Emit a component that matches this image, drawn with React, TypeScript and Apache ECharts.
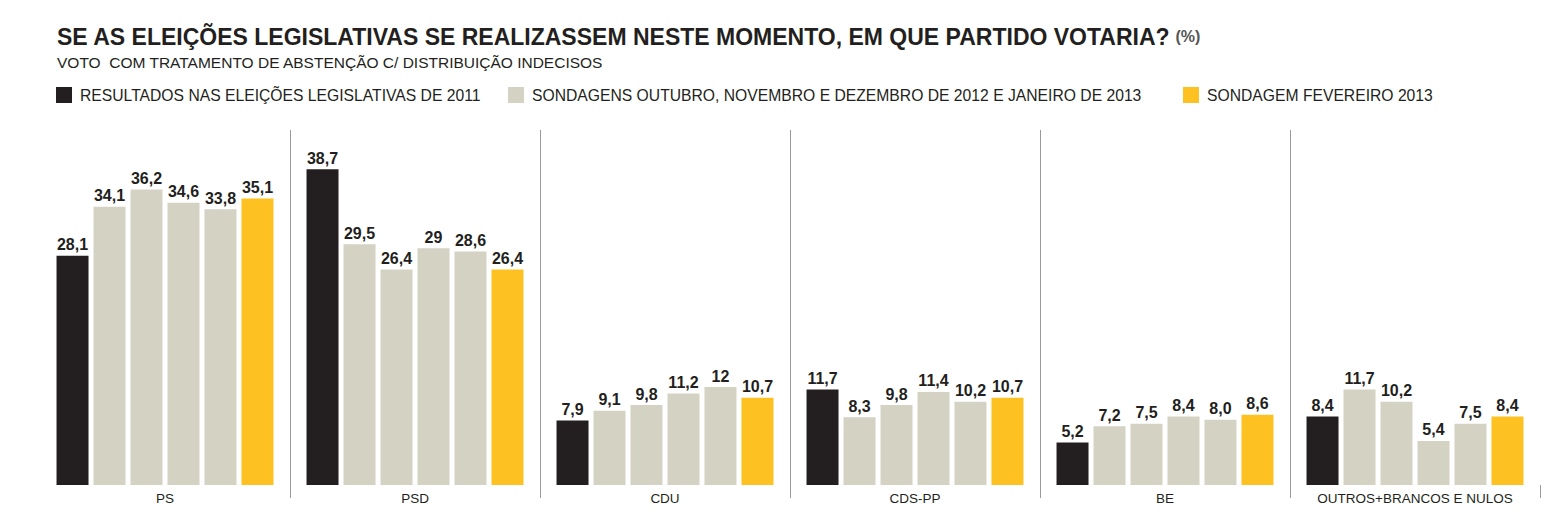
import React, { useEffect, useRef } from "react";
import * as echarts from "echarts";

const categories = ["PS", "PSD", "CDU", "CDS-PP", "BE", "OUTROS+BRANCOS E NULOS"];

const legendNames = [
  "RESULTADOS NAS ELEIÇÕES LEGISLATIVAS DE 2011",
  "SONDAGENS OUTUBRO, NOVEMBRO E DEZEMBRO DE 2012 E JANEIRO DE 2013",
  "SONDAGEM FEVEREIRO 2013",
];

const results2011 = [28.1, 38.7, 7.9, 11.7, 5.2, 8.4];
const pollOct2012 = [34.1, 29.5, 9.1, 8.3, 7.2, 11.7];
const pollNov2012 = [36.2, 26.4, 9.8, 9.8, 7.5, 10.2];
const pollDec2012 = [34.6, 29, 11.2, 11.4, 8.4, 5.4];
const pollJan2013 = [33.8, 28.6, 12, 10.2, 8.0, 7.5];
const pollFeb2013 = [35.1, 26.4, 10.7, 10.7, 8.6, 8.4];

// number of decimals shown in each label
const decimals2011 = [1, 1, 1, 1, 1, 1];
const decimalsOct = [1, 1, 1, 1, 1, 1];
const decimalsNov = [1, 1, 1, 1, 1, 1];
const decimalsDec = [1, 0, 1, 1, 1, 1];
const decimalsJan = [1, 1, 0, 1, 1, 1];
const decimalsFeb = [1, 1, 1, 1, 1, 1];

const BLACK = "#231f20";
const GREY = "#d3d2c3";
const YELLOW = "#fdc121";
const TEXT = "#231f20";
const FONT = "Liberation Sans, Arial, sans-serif";

export default function App() {
  const ref = useRef<HTMLDivElement>(null);

  useEffect(() => {
    if (!ref.current) return;
    const chart = echarts.init(ref.current, undefined, { renderer: "svg" });

    const mk = (name: string, data: number[], dec: number[], color: string) => ({
      name,
      type: "bar",
      data,
      barWidth: 32,
      barGap: "15.6%",
      itemStyle: { color },
      label: {
        show: true,
        position: "top",
        distance: 3,
        fontFamily: FONT,
        fontWeight: "bold",
        fontSize: 16,
        color: TEXT,
        formatter: (p: any) => p.value.toFixed(dec[p.dataIndex]).replace(".", ","),
      },
    });

    const legendCommon = {
      icon: "rect",
      itemWidth: 16,
      itemHeight: 16,
      top: 87,
      padding: 0,
      selectedMode: false,
      textStyle: {
        fontFamily: FONT,
        fontSize: 15.7,
        color: TEXT,
        padding: [0, 0, 0, 3],
      },
    };

    chart.setOption({
      animation: false,
      title: [
        {
          left: 57,
          top: 25,
          padding: 0,
          text: "{b|SE AS ELEIÇÕES LEGISLATIVAS SE REALIZASSEM NESTE MOMENTO, EM QUE PARTIDO VOTARIA?} {n|(%)}",
          textStyle: {
            rich: {
              b: {
                fontFamily: FONT,
                fontWeight: "bold",
                fontSize: 23,
                color: TEXT,
              },
              n: {
                fontFamily: FONT,
                fontSize: 16,
                color: "#555",
              },
            },
          },
        },
        {
          left: 57,
          top: 54,
          padding: 0,
          text: "VOTO  COM TRATAMENTO DE ABSTENÇÃO C/ DISTRIBUIÇÃO INDECISOS",
          textStyle: {
            fontFamily: FONT,
            fontWeight: "normal",
            fontSize: 15.5,
            color: TEXT,
          },
        },
      ],
      legend: [
        { ...legendCommon, left: 56, data: [legendNames[0]] },
        { ...legendCommon, left: 508, data: [legendNames[1]] },
        { ...legendCommon, left: 1183, data: [legendNames[2]] },
      ],
      grid: { left: 40, right: 25, top: 130, bottom: 36 },
      xAxis: {
        type: "category",
        data: categories,
        axisLine: { show: false },
        axisTick: {
          show: true,
          length: 13,
          interval: (i: number) => i > 0,
          lineStyle: { color: "#9a9a9a", width: 1 },
        },
        splitLine: {
          show: true,
          showMinLine: false,
          showMaxLine: false,
          interval: 0,
          lineStyle: { color: "#9a9a9a", width: 1 },
        },
        axisLabel: {
          margin: 6,
          fontFamily: FONT,
          fontSize: 13.5,
          color: TEXT,
          interval: 0,
        },
      },
      yAxis: {
        type: "value",
        min: 0,
        max: 43.5,
        show: false,
        splitLine: { show: false },
      },
      series: [
        mk(legendNames[0], results2011, decimals2011, BLACK),
        mk(legendNames[1], pollOct2012, decimalsOct, GREY),
        mk(legendNames[1], pollNov2012, decimalsNov, GREY),
        mk(legendNames[1], pollDec2012, decimalsDec, GREY),
        mk(legendNames[1], pollJan2013, decimalsJan, GREY),
        mk(legendNames[2], pollFeb2013, decimalsFeb, YELLOW),
      ],
    });

    return () => chart.dispose();
  }, []);

  return (
    <div
      ref={ref}
      style={{ position: "fixed", left: 0, top: 0, width: 1565, height: 521, background: "#fff" }}
    />
  );
}
